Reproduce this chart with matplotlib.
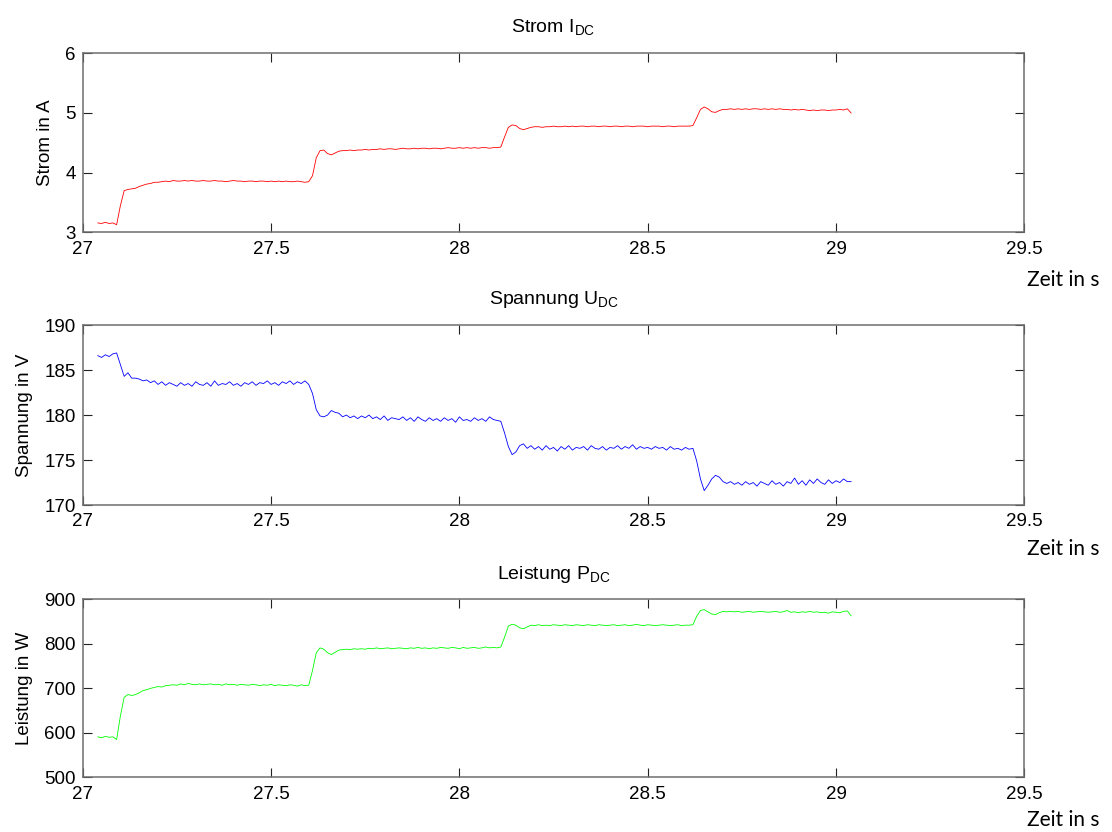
import numpy as np
import matplotlib
matplotlib.use("Agg")
import matplotlib.pyplot as plt
from matplotlib.ticker import FuncFormatter

plt.rcParams['font.family'] = ['Liberation Sans', 'DejaVu Sans']
plt.rcParams['mathtext.fontset'] = 'custom'
plt.rcParams['mathtext.rm'] = 'Liberation Sans'

# Zeitachse (Abtastung 10 ms)
zeit = np.round(np.arange(27.04, 29.0401, 0.01), 2)

strom = [
    3.16, 3.15, 3.17, 3.15, 3.16, 3.13, 3.45, 3.70, 3.72, 3.73,
    3.74, 3.77, 3.79, 3.81, 3.82, 3.84, 3.84, 3.85, 3.86, 3.85,
    3.87, 3.86, 3.86, 3.87, 3.86, 3.87, 3.86, 3.86, 3.87, 3.86,
    3.86, 3.87, 3.86, 3.86, 3.85, 3.86, 3.87, 3.86, 3.86, 3.85,
    3.86, 3.86, 3.85, 3.86, 3.86, 3.85, 3.86, 3.85, 3.86, 3.85,
    3.86, 3.85, 3.85, 3.86, 3.85, 3.84, 3.85, 3.95, 4.25, 4.37,
    4.38, 4.32, 4.30, 4.33, 4.36, 4.37, 4.37, 4.38, 4.37, 4.38,
    4.38, 4.39, 4.38, 4.39, 4.39, 4.40, 4.39, 4.40, 4.40, 4.39,
    4.40, 4.41, 4.40, 4.40, 4.41, 4.40, 4.41, 4.41, 4.40, 4.41,
    4.41, 4.40, 4.41, 4.42, 4.41, 4.41, 4.42, 4.41, 4.42, 4.41,
    4.42, 4.41, 4.42, 4.42, 4.41, 4.42, 4.42, 4.43, 4.60, 4.76,
    4.80, 4.79, 4.74, 4.72, 4.74, 4.76, 4.77, 4.77, 4.76, 4.77,
    4.77, 4.78, 4.77, 4.77, 4.78, 4.77, 4.78, 4.77, 4.78, 4.78,
    4.77, 4.78, 4.78, 4.77, 4.78, 4.78, 4.77, 4.78, 4.78, 4.77,
    4.78, 4.78, 4.77, 4.78, 4.78, 4.78, 4.77, 4.78, 4.78, 4.78,
    4.77, 4.78, 4.78, 4.77, 4.78, 4.78, 4.78, 4.78, 4.79, 4.92,
    5.06, 5.10, 5.07, 5.02, 5.01, 5.04, 5.06, 5.06, 5.07, 5.06,
    5.07, 5.06, 5.07, 5.06, 5.07, 5.07, 5.06, 5.07, 5.06, 5.07,
    5.06, 5.07, 5.06, 5.06, 5.05, 5.06, 5.05, 5.06, 5.05, 5.04,
    5.05, 5.04, 5.05, 5.05, 5.04, 5.05, 5.05, 5.06, 5.05, 5.07,
    5.00,
]

spannung = [
    186.6, 186.4, 186.7, 186.5, 186.8, 186.9, 185.6, 184.3, 184.7, 184.1,
    184.1, 184.0, 183.8, 183.9, 183.6, 183.8, 183.4, 183.7, 183.3, 183.6,
    183.4, 183.2, 183.6, 183.3, 183.5, 183.2, 183.7, 183.4, 183.3, 183.6,
    183.2, 183.8, 183.3, 183.5, 183.4, 183.7, 183.3, 183.5, 183.2, 183.6,
    183.4, 183.7, 183.3, 183.6, 183.5, 183.8, 183.4, 183.6, 183.3, 183.7,
    183.5, 183.8, 183.4, 183.7, 183.5, 183.8, 183.4, 182.4, 180.6, 179.9,
    179.8, 180.0, 180.5, 180.3, 180.2, 179.8, 180.0, 179.7, 179.9, 179.6,
    179.9, 179.7, 180.0, 179.6, 179.8, 179.5, 179.9, 179.4, 179.7, 179.6,
    179.5, 179.8, 179.4, 179.7, 179.3, 179.8, 179.5, 179.3, 179.7, 179.4,
    179.6, 179.3, 179.7, 179.4, 179.6, 179.2, 179.8, 179.4, 179.5, 179.3,
    179.7, 179.4, 179.6, 179.3, 179.8, 179.5, 179.4, 179.3, 178.0, 176.5,
    175.6, 175.9, 176.6, 176.8, 176.3, 176.6, 176.2, 176.5, 176.1, 176.6,
    176.2, 176.4, 176.0, 176.5, 176.2, 176.6, 176.1, 176.4, 176.3, 176.5,
    176.1, 176.6, 176.3, 176.2, 176.5, 176.1, 176.4, 176.3, 176.6, 176.2,
    176.5, 176.3, 176.7, 176.2, 176.5, 176.3, 176.4, 176.2, 176.5, 176.3,
    176.4, 176.1, 176.5, 176.2, 176.3, 176.1, 176.4, 176.2, 176.3, 174.9,
    172.9, 171.6, 172.2, 172.9, 173.3, 173.1, 172.6, 172.4, 172.6, 172.3,
    172.5, 172.2, 172.6, 172.3, 172.5, 172.1, 172.6, 172.4, 172.2, 172.7,
    172.3, 172.5, 172.1, 172.6, 172.4, 173.0, 172.3, 172.7, 172.2, 172.8,
    172.4, 172.9, 172.5, 172.3, 172.8, 172.4, 172.7, 172.5, 172.9, 172.6,
    172.6,
]

leistung = [
    591, 589, 592, 590, 591, 585, 638, 680, 686, 684,
    686, 690, 695, 697, 700, 702, 704, 703, 706, 707,
    708, 707, 710, 708, 711, 709, 708, 710, 708, 709,
    710, 708, 709, 707, 710, 708, 709, 707, 709, 708,
    707, 709, 708, 706, 708, 707, 709, 706, 708, 707,
    706, 708, 707, 705, 708, 706, 707, 740, 780, 791,
    788, 780, 776, 781, 786, 787, 788, 787, 789, 788,
    789, 788, 790, 789, 791, 789, 790, 791, 789, 790,
    791, 790, 789, 791, 790, 792, 790, 791, 789, 791,
    790, 792, 791, 790, 792, 791, 789, 792, 790, 791,
    792, 790, 791, 793, 791, 792, 791, 793, 815, 840,
    844, 842, 836, 834, 838, 842, 841, 843, 841, 842,
    841, 843, 842, 841, 843, 842, 841, 843, 842, 841,
    843, 842, 841, 843, 842, 841, 842, 843, 841, 842,
    843, 841, 842, 844, 842, 841, 843, 842, 841, 842,
    843, 842, 841, 842, 843, 841, 842, 842, 843, 862,
    875, 877, 872, 867, 866, 870, 873, 872, 873, 872,
    873, 871, 872, 873, 871, 872, 873, 872, 871, 872,
    873, 871, 872, 875, 871, 872, 870, 872, 871, 873,
    871, 872, 870, 871, 869, 872, 871, 870, 873, 874,
    863,
]

titel = ['Strom I$_\\mathregular{DC}$', 'Spannung U$_\\mathregular{DC}$',
         'Leistung P$_\\mathregular{DC}$']
ylabels = ['Strom in A', 'Spannung in V', 'Leistung in W']
farben = ['#ff0000', '#0000ff', '#00ff00']
yticks = [[3, 4, 5, 6], [170, 175, 180, 185, 190], [500, 600, 700, 800, 900]]
xticks = [27, 27.5, 28, 28.5, 29, 29.5]

fig = plt.figure(figsize=(11.12, 8.32), dpi=100)
# Achsenpositionen [links, unten, breite, hoehe]
positionen = [[0.0744, 0.7206, 0.8468, 0.2154],
              [0.0744, 0.3930, 0.8468, 0.2163],
              [0.0744, 0.0657, 0.8468, 0.2139]]
zeit_y = [0.664, 0.340, 0.015]

fmt = FuncFormatter(lambda v, p: '%g' % v)
for i, daten in enumerate([strom, spannung, leistung]):
    ax = fig.add_axes(positionen[i])
    ax.plot(zeit, daten, color=farben[i], lw=0.6)
    ax.set_xlim(27, 29.5)
    ax.set_ylim(yticks[i][0], yticks[i][-1])
    ax.set_xticks(xticks)
    ax.set_yticks(yticks[i])
    ax.xaxis.set_major_formatter(fmt)
    ax.yaxis.set_major_formatter(fmt)
    ax.tick_params(direction='in', length=6.5, width=0.8, labelsize=13.5,
                   top=True, right=True, color='#222222')
    ax.tick_params(axis='x', pad=6)
    ax.tick_params(axis='y', pad=5)
    for s in ax.spines.values():
        s.set_color('#6e6e6e')
        s.set_linewidth(1.1)
    ax.set_title(titel[i], fontsize=14, pad=15)
    ax.set_ylabel(ylabels[i], fontsize=13.5, labelpad=8)
    fig.text(0.924, zeit_y[i], 'Zeit in s', family='Lato', fontsize=15,
             ha='left', va='center')

fig.savefig('out.png', dpi=100)
